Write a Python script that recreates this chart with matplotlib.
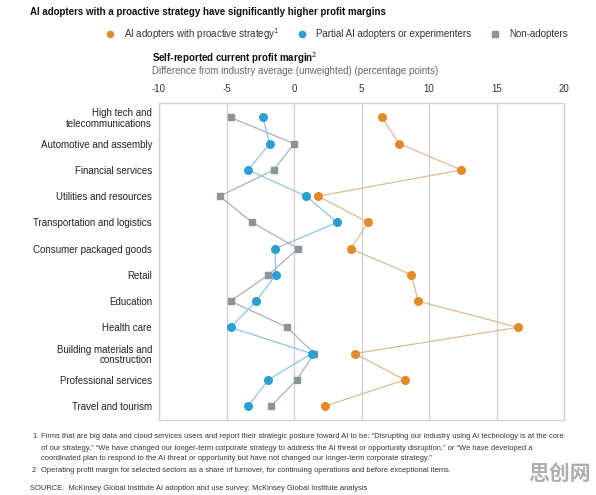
import matplotlib.pyplot as plt
from matplotlib.lines import Line2D

plt.rcParams['font.family'] = ['Liberation Sans', 'DejaVu Sans']

# 行业
sectors = ["High tech and\ntelecommunications", "Automotive and assembly", "Financial services",
           "Utilities and resources", "Transportation and logistics", "Consumer packaged goods",
           "Retail", "Education", "Health care", "Building materials and\nconstruction",
           "Professional services", "Travel and tourism"]

# 利润率差值 (百分点)
proactive = [6.5, 7.8, 12.4, 1.8, 5.5, 4.2, 8.7, 9.2, 16.6, 4.5, 8.2, 2.3]
partial = [-2.3, -1.8, -3.4, 0.9, 3.2, -1.4, -1.35, -2.8, -4.7, 1.3, -1.9, -3.4]
non_adopters = [-4.7, 0.0, -1.5, -5.5, -3.1, 0.3, -1.9, -4.7, -0.5, 1.5, 0.2, -1.7]

xticks = [-10, -5, 0, 5, 10, 15, 20]

orange = "#E38A2B"
blue = "#2C9FD2"
gray = "#8B9598"
grid_c = "#CFCFCF"

W, H = 596, 495
fig = plt.figure(figsize=(W / 100, H / 100), dpi=100)
ax = fig.add_axes([159 / W, 1 - 420 / H, 405 / W, 317.5 / H])

y = list(range(len(sectors)))

# 先画线再画点
ax.plot(non_adopters, y, color="#A9B1B4", lw=0.9, zorder=2)
ax.plot(partial, y, color="#8EC6DC", lw=0.9, zorder=2)
ax.plot(proactive, y, color="#D9BC93", lw=0.9, zorder=2)
ax.plot(non_adopters, y, ls="none", marker="s", ms=5, color=gray, zorder=3)
ax.plot(partial, y, ls="none", marker="o", ms=5.5, color=blue, zorder=4)
ax.plot(proactive, y, ls="none", marker="o", ms=5.5, color=orange, zorder=4)

ax.set_xlim(-10, 20)
ax.set_ylim(11.53, -0.57)
ax.set_xticks(xticks)
ax.set_xticklabels([str(t) for t in xticks], fontsize=7, color="#333333")
ax.xaxis.tick_top()
ax.tick_params(axis="x", length=0, pad=6)
ax.set_yticks(y)
ax.set_yticklabels(sectors, fontsize=7, color="#222222", linespacing=1.05)
ax.tick_params(axis="y", length=0, pad=5)
ax.grid(axis="x", color=grid_c, lw=0.9)
ax.set_axisbelow(True)
for s in ax.spines.values():
    s.set_color(grid_c)
    s.set_linewidth(0.9)

# 标题
fig.text(30 / W, 1 - 12 / H, "AI adopters with a proactive strategy have significantly higher profit margins",
         fontsize=7.05, fontweight="bold", va="center", color="#111111")
fig.text(152 / W, 1 - 58 / H, "Self-reported current profit margin$^2$", fontsize=7,
         fontweight="bold", va="center", color="#111111")
fig.text(152 / W, 1 - 71 / H, "Difference from industry average (unweighted) (percentage points)",
         fontsize=7.05, va="center", color="#666666")

# 图例 (手动摆放)
legend_items = [(110, "o", 4.5, orange, "AI adopters with proactive strategy$^1$"),
                (302, "o", 4.5, blue, "Partial AI adopters or experimenters"),
                (495, "s", 4, gray, "Non-adopters")]
for lx, mk, ms, col, lab in legend_items:
    fig.add_artist(Line2D([lx / W], [1 - 34 / H], transform=fig.transFigure, ls="none",
                          marker=mk, ms=ms, color=col))
    fig.text((lx + 14) / W, 1 - 34 / H, lab, fontsize=7, va="center", color="#333333")

# 脚注
notes = [
    (437, "1", "Firms that are big data and cloud services users and report their strategic posture toward AI to be: \u201cDisrupting our industry using AI technology is at the core"),
    (448, "", "of our strategy,\u201d \u201cWe have changed our longer-term corporate strategy to address the AI threat or opportunity disruption,\u201d or \u201cWe have developed a"),
    (459, "", "coordinated plan to respond to the AI threat or opportunity but have not changed our longer-term corporate strategy.\u201d"),
    (470, "2", "Operating profit margin for selected sectors as a share of turnover, for continuing operations and before exceptional items."),
]
for yy, num, txt in notes:
    if num:
        fig.text(32 / W, 1 - yy / H, num, fontsize=5.45, va="center", color="#333333")
    fig.text(41 / W, 1 - yy / H, txt, fontsize=5.45, va="center", color="#333333")
fig.text(30 / W, 1 - 488 / H, "SOURCE:  McKinsey Global Institute AI adoption and use survey; McKinsey Global Institute analysis",
         fontsize=5.45, va="center", color="#333333")

fig.text(560 / W, 1 - 473 / H, "思创网", fontsize=15, fontweight="bold", ha="center", va="center",
         color="#9A9A9A", family=["Noto Sans CJK SC", "DejaVu Sans"], alpha=0.8)

fig.savefig("out.png", dpi=100)
